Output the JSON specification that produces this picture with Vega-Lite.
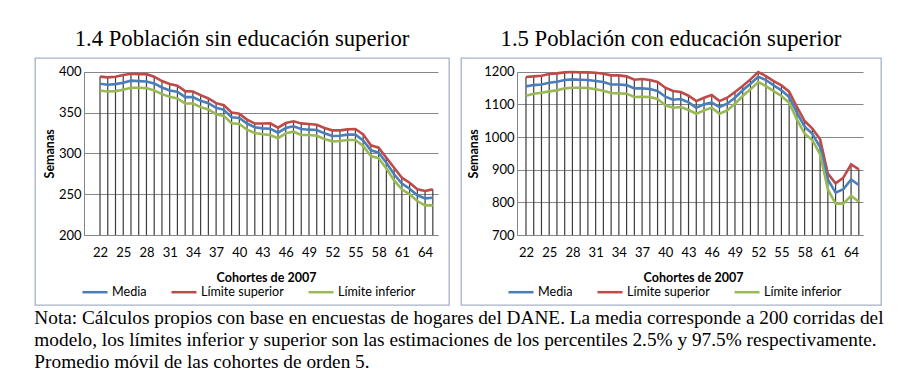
{
  "$schema": "https://vega.github.io/schema/vega-lite/v6.json",
  "padding": {"left": 34, "top": 27, "right": 0, "bottom": 0},
  "background": "white",
  "title": {
    "text": [
      "Nota: Cálculos propios con base en encuestas de hogares del DANE. La media corresponde a 200 corridas del",
      "modelo, los límites inferior y superior son las estimaciones de los percentiles 2.5% y 97.5% respectivamente.",
      "Promedio móvil de las cohortes de orden 5."
    ],
    "orient": "bottom",
    "anchor": "start",
    "frame": "bounds",
    "font": "Liberation Serif",
    "fontSize": 19.3,
    "fontWeight": "normal",
    "color": "#000000",
    "lineHeight": 22,
    "baseline": "top",
    "offset": 3
  },
  "datasets": {
    "sin": [
      {"c":22,"s":"Límite superior","v":394},{"c":22,"s":"Media","v":385.2},{"c":22,"s":"Límite inferior","v":377},
      {"c":23,"s":"Límite superior","v":393},{"c":23,"s":"Media","v":384},{"c":23,"s":"Límite inferior","v":375.8},
      {"c":24,"s":"Límite superior","v":393.9},{"c":24,"s":"Media","v":384.8},{"c":24,"s":"Límite inferior","v":376.2},
      {"c":25,"s":"Límite superior","v":395.9},{"c":25,"s":"Media","v":386.5},{"c":25,"s":"Límite inferior","v":377.9},
      {"c":26,"s":"Límite superior","v":397.5},{"c":26,"s":"Media","v":389},{"c":26,"s":"Límite inferior","v":380.3},
      {"c":27,"s":"Límite superior","v":397},{"c":27,"s":"Media","v":388.5},{"c":27,"s":"Límite inferior","v":380.3},
      {"c":28,"s":"Límite superior","v":397},{"c":28,"s":"Media","v":388},{"c":28,"s":"Límite inferior","v":379.9},
      {"c":29,"s":"Límite superior","v":393.9},{"c":29,"s":"Media","v":385.7},{"c":29,"s":"Límite inferior","v":377},
      {"c":30,"s":"Límite superior","v":388.5},{"c":30,"s":"Media","v":380.7},{"c":30,"s":"Límite inferior","v":372.5},
      {"c":31,"s":"Límite superior","v":385},{"c":31,"s":"Media","v":377},{"c":31,"s":"Límite inferior","v":369.3},
      {"c":32,"s":"Límite superior","v":382.8},{"c":32,"s":"Media","v":375.4},{"c":32,"s":"Límite inferior","v":367.2},
      {"c":33,"s":"Límite superior","v":376.2},{"c":33,"s":"Media","v":368.9},{"c":33,"s":"Límite inferior","v":361},
      {"c":34,"s":"Límite superior","v":375.8},{"c":34,"s":"Media","v":368.9},{"c":34,"s":"Límite inferior","v":361},
      {"c":35,"s":"Límite superior","v":371.3},{"c":35,"s":"Media","v":364.3},{"c":35,"s":"Límite inferior","v":356.6},
      {"c":36,"s":"Límite superior","v":367.2},{"c":36,"s":"Media","v":361.5},{"c":36,"s":"Límite inferior","v":353.7},
      {"c":37,"s":"Límite superior","v":361.5},{"c":37,"s":"Media","v":355.7},{"c":37,"s":"Límite inferior","v":348},
      {"c":38,"s":"Límite superior","v":359},{"c":38,"s":"Media","v":353.3},{"c":38,"s":"Límite inferior","v":345.9},
      {"c":39,"s":"Límite superior","v":350},{"c":39,"s":"Media","v":344.3},{"c":39,"s":"Límite inferior","v":336.9},
      {"c":40,"s":"Límite superior","v":348.4},{"c":40,"s":"Media","v":343.4},{"c":40,"s":"Límite inferior","v":336},
      {"c":41,"s":"Límite superior","v":341.4},{"c":41,"s":"Media","v":336.5},{"c":41,"s":"Límite inferior","v":329},
      {"c":42,"s":"Límite superior","v":336.5},{"c":42,"s":"Media","v":332},{"c":42,"s":"Límite inferior","v":325},
      {"c":43,"s":"Límite superior","v":336.5},{"c":43,"s":"Media","v":330.6},{"c":43,"s":"Límite inferior","v":323.4},
      {"c":44,"s":"Límite superior","v":336.7},{"c":44,"s":"Media","v":330.2},{"c":44,"s":"Límite inferior","v":322.4},
      {"c":45,"s":"Límite superior","v":331.4},{"c":45,"s":"Media","v":325.3},{"c":45,"s":"Límite inferior","v":318.4},
      {"c":46,"s":"Límite superior","v":337.1},{"c":46,"s":"Media","v":331},{"c":46,"s":"Límite inferior","v":324.5},
      {"c":47,"s":"Límite superior","v":339.2},{"c":47,"s":"Media","v":333.1},{"c":47,"s":"Límite inferior","v":326.5},
      {"c":48,"s":"Límite superior","v":336.7},{"c":48,"s":"Media","v":329.8},{"c":48,"s":"Límite inferior","v":322.4},
      {"c":49,"s":"Límite superior","v":335.9},{"c":49,"s":"Media","v":329},{"c":49,"s":"Límite inferior","v":322.4},
      {"c":50,"s":"Límite superior","v":335.1},{"c":50,"s":"Media","v":328.6},{"c":50,"s":"Límite inferior","v":321.6},
      {"c":51,"s":"Límite superior","v":331},{"c":51,"s":"Media","v":324.5},{"c":51,"s":"Límite inferior","v":317.6},
      {"c":52,"s":"Límite superior","v":328.2},{"c":52,"s":"Media","v":321.2},{"c":52,"s":"Límite inferior","v":314.7},
      {"c":53,"s":"Límite superior","v":328.2},{"c":53,"s":"Media","v":321.6},{"c":53,"s":"Límite inferior","v":315.1},
      {"c":54,"s":"Límite superior","v":329.4},{"c":54,"s":"Media","v":322.9},{"c":54,"s":"Límite inferior","v":316.3},
      {"c":55,"s":"Límite superior","v":329.8},{"c":55,"s":"Media","v":322.9},{"c":55,"s":"Límite inferior","v":316.3},
      {"c":56,"s":"Límite superior","v":323.3},{"c":56,"s":"Media","v":315.9},{"c":56,"s":"Límite inferior","v":309},
      {"c":57,"s":"Límite superior","v":309.8},{"c":57,"s":"Media","v":303.7},{"c":57,"s":"Límite inferior","v":296.7},
      {"c":58,"s":"Límite superior","v":306.9},{"c":58,"s":"Media","v":300.8},{"c":58,"s":"Límite inferior","v":293.9},
      {"c":59,"s":"Límite superior","v":294.7},{"c":59,"s":"Media","v":288.6},{"c":59,"s":"Límite inferior","v":281.6},
      {"c":60,"s":"Límite superior","v":282.4},{"c":60,"s":"Media","v":274.3},{"c":60,"s":"Límite inferior","v":266.9},
      {"c":61,"s":"Límite superior","v":270.2},{"c":61,"s":"Media","v":262.9},{"c":61,"s":"Límite inferior","v":255.9},
      {"c":62,"s":"Límite superior","v":264},{"c":62,"s":"Media","v":256.7},{"c":62,"s":"Límite inferior","v":249.8},
      {"c":63,"s":"Límite superior","v":255.9},{"c":63,"s":"Media","v":248.6},{"c":63,"s":"Límite inferior","v":241.6},
      {"c":64,"s":"Límite superior","v":253.9},{"c":64,"s":"Media","v":244.9},{"c":64,"s":"Límite inferior","v":236.3},
      {"c":65,"s":"Límite superior","v":255.9},{"c":65,"s":"Media","v":245.7},{"c":65,"s":"Límite inferior","v":236.3}
    ],
    "con": [
      {"c":22,"s":"Límite superior","v":1183.7},{"c":22,"s":"Media","v":1155},{"c":22,"s":"Límite inferior","v":1126.5},
      {"c":23,"s":"Límite superior","v":1185.7},{"c":23,"s":"Media","v":1159},{"c":23,"s":"Límite inferior","v":1132.7},
      {"c":24,"s":"Límite superior","v":1187.8},{"c":24,"s":"Media","v":1161},{"c":24,"s":"Límite inferior","v":1135.7},
      {"c":25,"s":"Límite superior","v":1192.9},{"c":25,"s":"Media","v":1166},{"c":25,"s":"Límite inferior","v":1139.8},
      {"c":26,"s":"Límite superior","v":1194.9},{"c":26,"s":"Media","v":1169},{"c":26,"s":"Límite inferior","v":1142.9},
      {"c":27,"s":"Límite superior","v":1198},{"c":27,"s":"Media","v":1174.5},{"c":27,"s":"Límite inferior","v":1149},
      {"c":28,"s":"Límite superior","v":1199},{"c":28,"s":"Media","v":1176.5},{"c":28,"s":"Límite inferior","v":1151},
      {"c":29,"s":"Límite superior","v":1198},{"c":29,"s":"Media","v":1175.5},{"c":29,"s":"Límite inferior","v":1151},
      {"c":30,"s":"Límite superior","v":1198},{"c":30,"s":"Media","v":1174.5},{"c":30,"s":"Límite inferior","v":1150},
      {"c":31,"s":"Límite superior","v":1197},{"c":31,"s":"Media","v":1171.4},{"c":31,"s":"Límite inferior","v":1146},
      {"c":32,"s":"Límite superior","v":1193.9},{"c":32,"s":"Media","v":1168.4},{"c":32,"s":"Límite inferior","v":1141.8},
      {"c":33,"s":"Límite superior","v":1188.8},{"c":33,"s":"Media","v":1161},{"c":33,"s":"Límite inferior","v":1134.7},
      {"c":34,"s":"Límite superior","v":1188.8},{"c":34,"s":"Media","v":1161},{"c":34,"s":"Límite inferior","v":1133.7},
      {"c":35,"s":"Límite superior","v":1185.7},{"c":35,"s":"Media","v":1159},{"c":35,"s":"Límite inferior","v":1132.7},
      {"c":36,"s":"Límite superior","v":1175.5},{"c":36,"s":"Media","v":1149},{"c":36,"s":"Límite inferior","v":1122.4},
      {"c":37,"s":"Límite superior","v":1177.6},{"c":37,"s":"Media","v":1149},{"c":37,"s":"Límite inferior","v":1123.5},
      {"c":38,"s":"Límite superior","v":1174.5},{"c":38,"s":"Media","v":1147},{"c":38,"s":"Límite inferior","v":1122.4},
      {"c":39,"s":"Límite superior","v":1168.4},{"c":39,"s":"Media","v":1141},{"c":39,"s":"Límite inferior","v":1116.3},
      {"c":40,"s":"Límite superior","v":1151},{"c":40,"s":"Media","v":1123.5},{"c":40,"s":"Límite inferior","v":1097},
      {"c":41,"s":"Límite superior","v":1140.8},{"c":41,"s":"Media","v":1114.3},{"c":41,"s":"Límite inferior","v":1089.8},
      {"c":42,"s":"Límite superior","v":1137.8},{"c":42,"s":"Media","v":1116.3},{"c":42,"s":"Límite inferior","v":1091.8},
      {"c":43,"s":"Límite superior","v":1126.5},{"c":43,"s":"Media","v":1106},{"c":43,"s":"Límite inferior","v":1082.7},
      {"c":44,"s":"Límite superior","v":1110},{"c":44,"s":"Media","v":1089.8},{"c":44,"s":"Límite inferior","v":1071.4},
      {"c":45,"s":"Límite superior","v":1120.4},{"c":45,"s":"Media","v":1100},{"c":45,"s":"Límite inferior","v":1081.6},
      {"c":46,"s":"Límite superior","v":1128.6},{"c":46,"s":"Media","v":1105},{"c":46,"s":"Límite inferior","v":1089.8},
      {"c":47,"s":"Límite superior","v":1110},{"c":47,"s":"Media","v":1091.8},{"c":47,"s":"Límite inferior","v":1071.4},
      {"c":48,"s":"Límite superior","v":1120.4},{"c":48,"s":"Media","v":1102},{"c":48,"s":"Límite inferior","v":1081.6},
      {"c":49,"s":"Límite superior","v":1137.8},{"c":49,"s":"Media","v":1120.4},{"c":49,"s":"Límite inferior","v":1102},
      {"c":50,"s":"Límite superior","v":1156},{"c":50,"s":"Media","v":1143},{"c":50,"s":"Límite inferior","v":1125.5},
      {"c":51,"s":"Límite superior","v":1176.5},{"c":51,"s":"Media","v":1163},{"c":51,"s":"Límite inferior","v":1146},
      {"c":52,"s":"Límite superior","v":1199},{"c":52,"s":"Media","v":1184.7},{"c":52,"s":"Límite inferior","v":1168.4},
      {"c":53,"s":"Límite superior","v":1186.7},{"c":53,"s":"Media","v":1174.5},{"c":53,"s":"Límite inferior","v":1156},
      {"c":54,"s":"Límite superior","v":1171.4},{"c":54,"s":"Media","v":1158},{"c":54,"s":"Límite inferior","v":1140.8},
      {"c":55,"s":"Límite superior","v":1158},{"c":55,"s":"Media","v":1143},{"c":55,"s":"Límite inferior","v":1125.5},
      {"c":56,"s":"Límite superior","v":1138.8},{"c":56,"s":"Media","v":1122.4},{"c":56,"s":"Límite inferior","v":1105},
      {"c":57,"s":"Límite superior","v":1092},{"c":57,"s":"Media","v":1074.5},{"c":57,"s":"Límite inferior","v":1054},
      {"c":58,"s":"Límite superior","v":1049},{"c":58,"s":"Media","v":1031.6},{"c":58,"s":"Límite inferior","v":1010},
      {"c":59,"s":"Límite superior","v":1025.5},{"c":59,"s":"Media","v":1010},{"c":59,"s":"Límite inferior","v":990.8},
      {"c":60,"s":"Límite superior","v":993},{"c":60,"s":"Media","v":969},{"c":60,"s":"Límite inferior","v":947},
      {"c":61,"s":"Límite superior","v":887.8},{"c":61,"s":"Media","v":870},{"c":61,"s":"Límite inferior","v":840},
      {"c":62,"s":"Límite superior","v":858},{"c":62,"s":"Media","v":829.6},{"c":62,"s":"Límite inferior","v":796},
      {"c":63,"s":"Límite superior","v":875.5},{"c":63,"s":"Media","v":840},{"c":63,"s":"Límite inferior","v":796},
      {"c":64,"s":"Límite superior","v":916.3},{"c":64,"s":"Media","v":870},{"c":64,"s":"Límite inferior","v":820},
      {"c":65,"s":"Límite superior","v":901},{"c":65,"s":"Media","v":853},{"c":65,"s":"Límite inferior","v":802}
    ]
  },
  "spacing": 10,
  "resolve": {"scale": {"color": "independent", "x": "independent", "y": "independent"}, "legend": {"color": "independent"}},
  "hconcat": [
    {
      "width": 414,
      "height": 247,
      "title": {"text": "1.4 Población sin educación superior", "font": "Liberation Serif", "fontSize": 22.7, "fontWeight": "normal", "color": "#000000", "anchor": "middle", "offset": -11, "baseline": "alphabetic"},
      "data": {"name": "sin"},
      "encoding": {
        "x": {"field": "c", "type": "quantitative",
          "scale": {"domain": [19.93, 65.67], "range": [49, 403], "nice": false, "zero": false},
          "axis": {"orient": "bottom", "offset": -70, "values": [22,25,28,31,34,37,40,43,46,49,52,55,58,61,64], "grid": false, "ticks": false, "tickSize": 0, "labelPadding": 11, "labelFlush": false, "labelOverlap": false, "labelBound": false, "title": "Cohortes de 2007", "titleX": 231, "titleY": 42, "titleBaseline": "middle"}},
        "y": {"field": "v", "type": "quantitative",
          "scale": {"domain": [200, 400], "range": [177, 13.7], "nice": false, "zero": false},
          "axis": {"orient": "left", "offset": -49, "values": [200,250,300,350,400], "format": "d", "grid": true, "ticks": false, "tickSize": 0, "labelPadding": 3, "title": "Semanas", "titleX": -35, "titleBaseline": "middle"}}
      },
      "layer": [
        {
          "transform": [{"filter": "datum.s === 'Límite superior'"}],
          "mark": {"type": "rule", "color": "#3c3c3c", "strokeWidth": 1.2},
          "encoding": {"y2": {"datum": 200}}
        },
        {
          "mark": {"type": "line", "strokeWidth": 2.6},
          "encoding": {
            "color": {"field": "s", "type": "nominal",
              "scale": {"domain": ["Media", "Límite superior", "Límite inferior"], "range": ["#4a7ebb", "#be4b48", "#98b954"]},
              "legend": {"orient": "none", "legendX": 46, "legendY": 220, "direction": "horizontal", "title": null, "symbolType": "stroke", "symbolSize": 625, "symbolStrokeWidth": 2.5, "labelOffset": 3, "columnPadding": 19, "labelFont": "Lato", "labelFontSize": 12.6, "labelColor": "#000000"}}
          }
        }
      ]
    },
    {
      "width": 420,
      "height": 247,
      "title": {"text": "1.5 Población con educación superior", "font": "Liberation Serif", "fontSize": 22.7, "fontWeight": "normal", "color": "#000000", "anchor": "middle", "offset": -11, "baseline": "alphabetic"},
      "data": {"name": "con"},
      "encoding": {
        "x": {"field": "c", "type": "quantitative",
          "scale": {"domain": [20.84, 65.54], "range": [56, 402], "nice": false, "zero": false},
          "axis": {"orient": "bottom", "offset": -70, "values": [22,25,28,31,34,37,40,43,46,49,52,55,58,61,64], "grid": false, "ticks": false, "tickSize": 0, "labelPadding": 11, "labelFlush": false, "labelOverlap": false, "labelBound": false, "title": "Cohortes de 2007", "titleX": 232, "titleY": 42, "titleBaseline": "middle"}},
        "y": {"field": "v", "type": "quantitative",
          "scale": {"domain": [700, 1200], "range": [177, 13.7], "nice": false, "zero": false},
          "axis": {"orient": "left", "offset": -56, "values": [700,800,900,1000,1100,1200], "format": "d", "grid": true, "ticks": false, "tickSize": 0, "labelPadding": 3, "title": "Semanas", "titleX": -44, "titleBaseline": "middle"}}
      },
      "layer": [
        {
          "transform": [{"filter": "datum.s === 'Límite superior'"}],
          "mark": {"type": "rule", "color": "#3c3c3c", "strokeWidth": 1.2},
          "encoding": {"y2": {"datum": 700}}
        },
        {
          "mark": {"type": "line", "strokeWidth": 2.6},
          "encoding": {
            "color": {"field": "s", "type": "nominal",
              "scale": {"domain": ["Media", "Límite superior", "Límite inferior"], "range": ["#4a7ebb", "#be4b48", "#98b954"]},
              "legend": {"orient": "none", "legendX": 46, "legendY": 220, "direction": "horizontal", "title": null, "symbolType": "stroke", "symbolSize": 625, "symbolStrokeWidth": 2.5, "labelOffset": 3, "columnPadding": 19, "labelFont": "Lato", "labelFontSize": 12.6, "labelColor": "#000000"}}
          }
        }
      ]
    }
  ],
  "config": {
    "view": {"stroke": "#a5b3c9", "strokeWidth": 1.3},
    "font": "Lato",
    "axis": {"labelFont": "Lato", "labelFontSize": 13, "labelColor": "#000000", "labelOverlap": false, "titleFont": "Lato", "titleFontSize": 12.5, "titleFontWeight": "bold", "titleColor": "#000000", "domainColor": "#868686", "domainWidth": 1, "gridColor": "#868686", "gridWidth": 1, "gridOpacity": 1}
  }
}
